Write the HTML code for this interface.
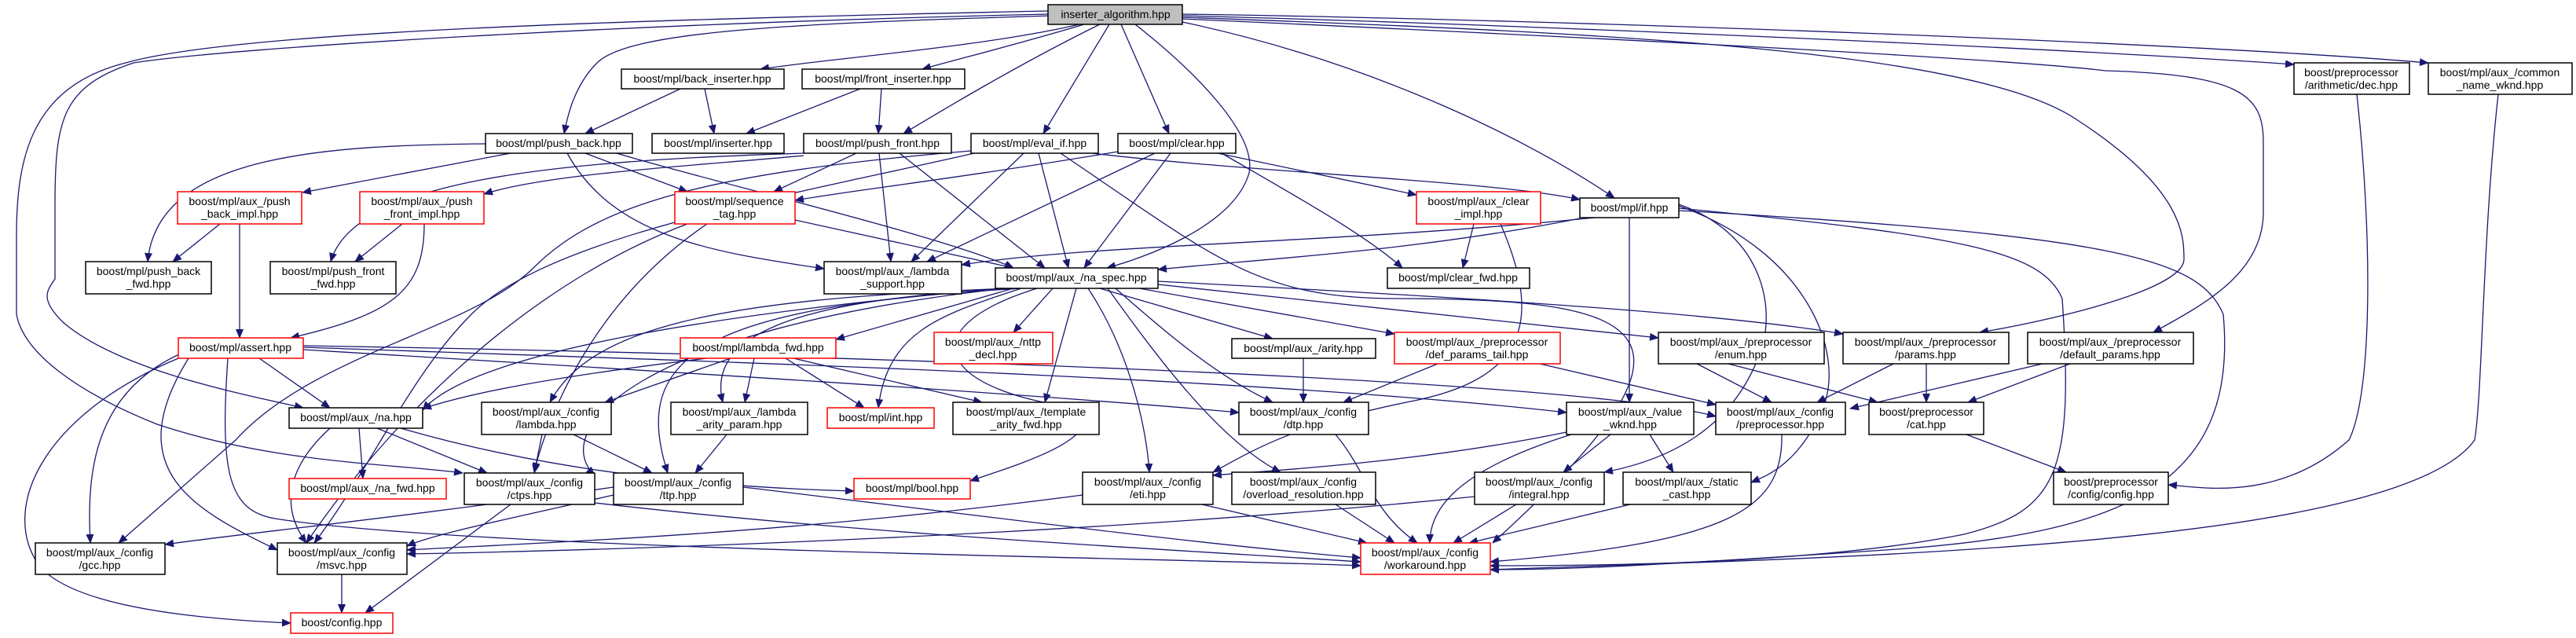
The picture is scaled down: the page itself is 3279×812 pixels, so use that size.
<!DOCTYPE html>
<html><head><meta charset="utf-8"><style>
html,body{margin:0;padding:0;background:#fff;}
svg{display:block;}
text{font-family:"Liberation Sans","DejaVu Sans",sans-serif;font-size:14px;fill:#000;text-anchor:middle;}
.e{fill:none;stroke:#191970;stroke-width:1.3;marker-end:url(#a);}
.n{fill:#fff;stroke:#000;stroke-width:1.5;}
.r{fill:#fff;stroke:#ff0000;stroke-width:1.5;}
</style></head><body>
<svg width="3279" height="812" viewBox="0 0 3279 812" xmlns="http://www.w3.org/2000/svg">
<defs><marker id="a" markerUnits="userSpaceOnUse" markerWidth="12" markerHeight="10" refX="11" refY="5" orient="auto"><path d="M0,0 L12,5 L0,10 z" fill="#191970"/></marker></defs>
<g>
<path class="e" d="M1374,31 C1250,60 1050,75 968,88"/>
<path class="e" d="M1380,31 C1300,55 1220,75 1174,88"/>
<path class="e" d="M1340,20 C1000,30 800,40 760,80 C730,110 722,150 718,170"/>
<path class="e" d="M1400,31 C1300,80 1200,140 1150,170"/>
<path class="e" d="M1412,31 L1328,170"/>
<path class="e" d="M1427,31 L1488,170"/>
<path class="e" d="M1445,31 C1520,90 1600,170 1590,220 C1570,290 1450,330 1409,341"/>
<path class="e" d="M1505,28 C1750,80 1950,180 2055,252"/>
<path class="e" d="M1505,20 C1900,30 2600,60 2920,82"/>
<path class="e" d="M1505,18 C2000,25 2800,55 3091,80"/>
<path class="e" d="M1505,22 C2000,40 2500,60 2640,150 C2780,240 2780,300 2780,330 C2780,370 2600,410 2520,423"/>
<path class="e" d="M1505,24 C2300,60 2600,80 2680,90 C2850,95 2881,120 2881,180 L2881,270 C2881,350 2800,390 2741,423"/>
<path class="e" d="M1334,18 C800,30 300,60 170,80 C80,110 70,150 70,260 L70,355 C60,370 50,380 80,410 C150,470 300,500 386,519"/>
<path class="e" d="M1334,14 C800,25 300,40 160,80 C40,110 21,200 21,300 L21,400 C30,450 100,500 200,540 C350,590 500,590 589,602"/>
<path class="e" d="M866,113 L745,170"/>
<path class="e" d="M897,113 L909,170"/>
<path class="e" d="M1095,113 L950,170"/>
<path class="e" d="M1122,113 L1118,170"/>
<path class="e" d="M618,183 C400,185 200,200 188,333"/>
<path class="e" d="M650,195 L385,245"/>
<path class="e" d="M745,195 L875,244"/>
<path class="e" d="M722,195 C780,300 900,320 1049,342"/>
<path class="e" d="M785,195 C900,230 1200,300 1290,341"/>
<path class="e" d="M1023,195 C700,205 450,230 421,333"/>
<path class="e" d="M1023,198 C900,210 700,220 616,247"/>
<path class="e" d="M1090,195 L985,244"/>
<path class="e" d="M1119,195 L1134,333"/>
<path class="e" d="M1145,195 L1330,341"/>
<path class="e" d="M280,285 L220,333"/>
<path class="e" d="M305,285 L305,430"/>
<path class="e" d="M512,285 L452,333"/>
<path class="e" d="M540,285 C540,370 500,400 370,430"/>
<path class="e" d="M1012,280 L1290,341"/>
<path class="e" d="M875,285 C700,350 520,500 390,691"/>
<path class="e" d="M900,285 C760,380 700,520 680,600"/>
<path class="e" d="M1303,195 L1160,333"/>
<path class="e" d="M1322,195 L1360,341"/>
<path class="e" d="M1390,195 C1600,220 1900,230 2011,254"/>
<path class="e" d="M1236,192 C900,220 760,260 680,340 C600,420 400,450 300,560 L151,691"/>
<path class="e" d="M1240,195 C1000,250 700,300 600,400 C520,480 470,600 400,691"/>
<path class="e" d="M1350,195 C1550,330 1600,380 1780,380 C2100,380 2200,420 1900,691"/>
<path class="e" d="M1470,195 L1180,333"/>
<path class="e" d="M1490,195 L1380,341"/>
<path class="e" d="M1550,195 L1803,248"/>
<path class="e" d="M1555,195 C1650,250 1740,300 1785,341"/>
<path class="e" d="M1423,193 C1200,230 1100,240 1012,255"/>
<path class="e" d="M1876,285 L1862,341"/>
<path class="e" d="M1910,285 C1960,400 1950,480 1800,510 C1650,540 1600,570 1544,601"/>
<path class="e" d="M2030,277 C1700,310 1400,310 1224,337"/>
<path class="e" d="M2011,278 C1800,320 1600,330 1474,343"/>
<path class="e" d="M2074,277 L2074,512"/>
<path class="e" d="M2137,260 C2250,300 2260,400 2240,450 C2200,560 2100,590 2042,601"/>
<path class="e" d="M2137,262 C2300,320 2350,450 2320,520 C2290,590 2250,605 2229,614"/>
<path class="e" d="M2137,265 C2500,300 2600,320 2625,380 C2640,600 2620,650 2500,680 C2300,720 2000,720 1897,720"/>
<path class="e" d="M2137,268 C2700,300 2800,330 2830,400 C2850,620 2700,680 2400,700 C2100,720 2000,725 1897,725"/>
<path class="e" d="M1290,367 L1064,432"/>
<path class="e" d="M1340,367 L1290,423"/>
<path class="e" d="M1300,367 C1200,400 1130,420 1118,519"/>
<path class="e" d="M1370,367 L1330,512"/>
<path class="e" d="M1400,367 L1620,431"/>
<path class="e" d="M1450,367 L1775,425"/>
<path class="e" d="M1474,362 L2111,430"/>
<path class="e" d="M1474,358 C1900,380 2200,400 2346,425"/>
<path class="e" d="M1420,367 C1480,420 1550,480 1620,512"/>
<path class="e" d="M1385,367 C1440,450 1460,550 1463,601"/>
<path class="e" d="M1410,367 C1470,450 1550,560 1630,601"/>
<path class="e" d="M1320,367 C1150,420 1200,500 1380,520 C1400,560 1300,590 1235,612"/>
<path class="e" d="M1290,367 C900,380 750,420 700,512"/>
<path class="e" d="M1300,367 C1000,380 900,430 920,512"/>
<path class="e" d="M1300,367 C900,390 800,450 850,602"/>
<path class="e" d="M1275,367 C900,400 600,450 538,522"/>
<path class="e" d="M1280,367 C800,420 700,550 757,605"/>
<path class="e" d="M900,456 C700,480 600,500 538,520"/>
<path class="e" d="M930,456 L770,512"/>
<path class="e" d="M960,456 L948,512"/>
<path class="e" d="M1000,456 L1100,519"/>
<path class="e" d="M1010,456 L1250,512"/>
<path class="e" d="M330,456 L420,519"/>
<path class="e" d="M230,450 C120,500 110,600 115,691"/>
<path class="e" d="M240,456 C150,600 250,650 353,700"/>
<path class="e" d="M227,456 C50,530 0,650 50,720 C100,780 300,790 370,793"/>
<path class="e" d="M290,456 C280,600 290,650 350,660 C600,700 1500,710 1732,720"/>
<path class="e" d="M386,445 C800,470 1300,500 1577,525"/>
<path class="e" d="M386,442 C900,460 1600,480 1994,525"/>
<path class="e" d="M386,440 C1000,450 2000,480 2184,530"/>
<path class="e" d="M457,545 L462,609"/>
<path class="e" d="M480,545 L620,602"/>
<path class="e" d="M420,545 C360,600 360,650 390,691"/>
<path class="e" d="M510,545 C700,600 900,620 1087,625"/>
<path class="e" d="M690,553 L680,602"/>
<path class="e" d="M730,553 L830,602"/>
<path class="e" d="M925,553 L885,602"/>
<path class="e" d="M781,620 C500,660 300,680 210,693"/>
<path class="e" d="M781,630 C650,660 550,680 518,695"/>
<path class="e" d="M946,620 C1200,650 1500,690 1732,710"/>
<path class="e" d="M650,642 L465,780"/>
<path class="e" d="M757,640 C1100,680 1500,700 1732,715"/>
<path class="e" d="M435,731 L435,780"/>
<path class="e" d="M1700,553 C1740,600 1745,650 1804,691"/>
<path class="e" d="M1659,456 L1659,512"/>
<path class="e" d="M1830,463 L1710,512"/>
<path class="e" d="M1960,463 L2184,515"/>
<path class="e" d="M2160,463 L2255,512"/>
<path class="e" d="M2200,463 L2390,512"/>
<path class="e" d="M2410,463 L2313,512"/>
<path class="e" d="M2452,463 L2452,512"/>
<path class="e" d="M2600,463 L2355,520"/>
<path class="e" d="M2635,463 L2505,512"/>
<path class="e" d="M2503,553 L2630,601"/>
<path class="e" d="M2268,553 C2270,650 2200,690 1897,715"/>
<path class="e" d="M3000,120 C3020,300 3020,500 2990,560 C2900,640 2800,620 2760,617"/>
<path class="e" d="M3180,120 C3160,300 3160,500 3150,560 C3050,700 2300,710 1897,725"/>
<path class="e" d="M1530,642 L1740,691"/>
<path class="e" d="M1378,630 C1000,680 700,690 518,700"/>
<path class="e" d="M1700,642 L1775,691"/>
<path class="e" d="M1930,642 L1850,691"/>
<path class="e" d="M1877,632 C1400,680 800,700 518,705"/>
<path class="e" d="M2075,642 L1870,691"/>
<path class="e" d="M1994,550 C1800,590 1600,600 1544,605"/>
<path class="e" d="M2050,553 L1990,601"/>
<path class="e" d="M2100,553 L2130,601"/>
<path class="e" d="M2000,553 C1850,600 1820,650 1820,691"/>
</g>
<g>
<rect x="1334" y="6" width="171" height="25" fill="#bfbfbf" stroke="#000" stroke-width="1.5"/><text x="1420" y="23">inserter_algorithm.hpp</text>
<rect class="n" x="791" y="88" width="207" height="25"/><text x="894" y="105">boost/mpl/back_inserter.hpp</text>
<rect class="n" x="1021" y="88" width="207" height="25"/><text x="1124" y="105">boost/mpl/front_inserter.hpp</text>
<rect class="n" x="618" y="170" width="187" height="25"/><text x="711" y="187">boost/mpl/push_back.hpp</text>
<rect class="n" x="830" y="170" width="168" height="25"/><text x="914" y="187">boost/mpl/inserter.hpp</text>
<rect class="n" x="1023" y="170" width="188" height="25"/><text x="1117" y="187">boost/mpl/push_front.hpp</text>
<rect class="n" x="1236" y="170" width="162" height="25"/><text x="1317" y="187">boost/mpl/eval_if.hpp</text>
<rect class="n" x="1423" y="170" width="150" height="25"/><text x="1498" y="187">boost/mpl/clear.hpp</text>
<rect class="r" x="226" y="244" width="158" height="41"/><text x="305" y="261">boost/mpl/aux_/push</text><text x="305" y="277">_back_impl.hpp</text>
<rect class="r" x="458" y="244" width="158" height="41"/><text x="537" y="261">boost/mpl/aux_/push</text><text x="537" y="277">_front_impl.hpp</text>
<rect class="r" x="859" y="244" width="153" height="41"/><text x="935" y="261">boost/mpl/sequence</text><text x="935" y="277">_tag.hpp</text>
<rect class="r" x="1803" y="244" width="158" height="41"/><text x="1882" y="261">boost/mpl/aux_/clear</text><text x="1882" y="277">_impl.hpp</text>
<rect class="n" x="2011" y="252" width="126" height="25"/><text x="2074" y="269">boost/mpl/if.hpp</text>
<rect class="n" x="109" y="333" width="160" height="41"/><text x="189" y="350">boost/mpl/push_back</text><text x="189" y="366">_fwd.hpp</text>
<rect class="n" x="344" y="333" width="160" height="41"/><text x="424" y="350">boost/mpl/push_front</text><text x="424" y="366">_fwd.hpp</text>
<rect class="n" x="1049" y="333" width="175" height="41"/><text x="1136" y="350">boost/mpl/aux_/lambda</text><text x="1136" y="366">_support.hpp</text>
<rect class="n" x="1267" y="341" width="207" height="26"/><text x="1370" y="358">boost/mpl/aux_/na_spec.hpp</text>
<rect class="n" x="1766" y="341" width="181" height="26"/><text x="1856" y="358">boost/mpl/clear_fwd.hpp</text>
<rect class="n" x="2920" y="80" width="147" height="40"/><text x="2993" y="97">boost/preprocessor</text><text x="2993" y="113">/arithmetic/dec.hpp</text>
<rect class="n" x="3091" y="80" width="183" height="40"/><text x="3182" y="97">boost/mpl/aux_/common</text><text x="3182" y="113">_name_wknd.hpp</text>
<rect class="r" x="227" y="430" width="159" height="26"/><text x="306" y="447">boost/mpl/assert.hpp</text>
<rect class="r" x="866" y="430" width="198" height="26"/><text x="965" y="447">boost/mpl/lambda_fwd.hpp</text>
<rect class="r" x="1189" y="423" width="151" height="40"/><text x="1264" y="440">boost/mpl/aux_/nttp</text><text x="1264" y="456">_decl.hpp</text>
<rect class="n" x="1568" y="431" width="183" height="25"/><text x="1659" y="448">boost/mpl/aux_/arity.hpp</text>
<rect class="r" x="1775" y="423" width="211" height="40"/><text x="1880" y="440">boost/mpl/aux_/preprocessor</text><text x="1880" y="456">/def_params_tail.hpp</text>
<rect class="n" x="2111" y="423" width="211" height="40"/><text x="2216" y="440">boost/mpl/aux_/preprocessor</text><text x="2216" y="456">/enum.hpp</text>
<rect class="n" x="2346" y="423" width="211" height="40"/><text x="2451" y="440">boost/mpl/aux_/preprocessor</text><text x="2451" y="456">/params.hpp</text>
<rect class="n" x="2581" y="423" width="211" height="40"/><text x="2686" y="440">boost/mpl/aux_/preprocessor</text><text x="2686" y="456">/default_params.hpp</text>
<rect class="n" x="368" y="519" width="170" height="26"/><text x="453" y="536">boost/mpl/aux_/na.hpp</text>
<rect class="n" x="613" y="512" width="165" height="41"/><text x="695" y="529">boost/mpl/aux_/config</text><text x="695" y="545">/lambda.hpp</text>
<rect class="n" x="854" y="512" width="174" height="41"/><text x="941" y="529">boost/mpl/aux_/lambda</text><text x="941" y="545">_arity_param.hpp</text>
<rect class="r" x="1053" y="519" width="136" height="26"/><text x="1121" y="536">boost/mpl/int.hpp</text>
<rect class="n" x="1213" y="512" width="186" height="41"/><text x="1306" y="529">boost/mpl/aux_/template</text><text x="1306" y="545">_arity_fwd.hpp</text>
<rect class="n" x="1577" y="512" width="165" height="41"/><text x="1659" y="529">boost/mpl/aux_/config</text><text x="1659" y="545">/dtp.hpp</text>
<rect class="n" x="1994" y="512" width="162" height="41"/><text x="2075" y="529">boost/mpl/aux_/value</text><text x="2075" y="545">_wknd.hpp</text>
<rect class="n" x="2184" y="512" width="165" height="41"/><text x="2266" y="529">boost/mpl/aux_/config</text><text x="2266" y="545">/preprocessor.hpp</text>
<rect class="n" x="2379" y="512" width="146" height="41"/><text x="2452" y="529">boost/preprocessor</text><text x="2452" y="545">/cat.hpp</text>
<rect class="r" x="368" y="609" width="200" height="26"/><text x="468" y="626">boost/mpl/aux_/na_fwd.hpp</text>
<rect class="n" x="591" y="602" width="166" height="40"/><text x="674" y="619">boost/mpl/aux_/config</text><text x="674" y="635">/ctps.hpp</text>
<rect class="n" x="781" y="602" width="165" height="40"/><text x="863" y="619">boost/mpl/aux_/config</text><text x="863" y="635">/ttp.hpp</text>
<rect class="r" x="1087" y="609" width="148" height="26"/><text x="1161" y="626">boost/mpl/bool.hpp</text>
<rect class="n" x="1378" y="601" width="166" height="41"/><text x="1461" y="618">boost/mpl/aux_/config</text><text x="1461" y="634">/eti.hpp</text>
<rect class="n" x="1568" y="601" width="183" height="41"/><text x="1659" y="618">boost/mpl/aux_/config</text><text x="1659" y="634">/overload_resolution.hpp</text>
<rect class="n" x="1877" y="601" width="165" height="41"/><text x="1959" y="618">boost/mpl/aux_/config</text><text x="1959" y="634">/integral.hpp</text>
<rect class="n" x="2066" y="601" width="163" height="41"/><text x="2147" y="618">boost/mpl/aux_/static</text><text x="2147" y="634">_cast.hpp</text>
<rect class="n" x="2614" y="601" width="146" height="41"/><text x="2687" y="618">boost/preprocessor</text><text x="2687" y="634">/config/config.hpp</text>
<rect class="n" x="45" y="691" width="165" height="40"/><text x="127" y="708">boost/mpl/aux_/config</text><text x="127" y="724">/gcc.hpp</text>
<rect class="n" x="353" y="691" width="165" height="40"/><text x="435" y="708">boost/mpl/aux_/config</text><text x="435" y="724">/msvc.hpp</text>
<rect class="r" x="1732" y="691" width="165" height="40"/><text x="1814" y="708">boost/mpl/aux_/config</text><text x="1814" y="724">/workaround.hpp</text>
<rect class="r" x="370" y="780" width="130" height="26"/><text x="435" y="797">boost/config.hpp</text>
</g>
</svg>
</body></html>
